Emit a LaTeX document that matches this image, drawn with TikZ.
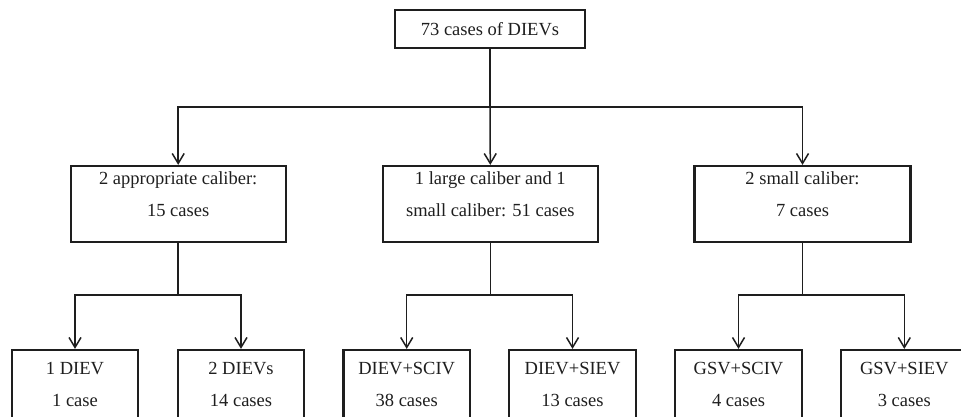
\documentclass[tikz,border=0pt]{standalone}
\usepackage{fontspec}
\setmainfont{Liberation Serif}
\usetikzlibrary{arrows.meta}
\definecolor{ink}{HTML}{1E1E1E}
\tikzset{
  box/.style={draw=ink, line width=2.2pt, rectangle, inner sep=0pt},
  txt/.style={inner sep=0pt, align=center, text=ink, font=\fontsize{18.5}{32}\selectfont},
  conn/.style={draw=ink, line width=1.5pt},
  arr/.style={conn, -{Straight Barb[length=10pt,width=12pt]}}
}
\begin{document}
\begin{tikzpicture}[x=1pt,y=-1pt]
\useasboundingbox (0,0) rectangle (961,416);
% top
\node[box, minimum width=190pt, minimum height=38pt] (top) at (490,29) {};
\node[txt] (topt) at (490,29) {73 cases of DIEVs};
% middle row
\node[box, minimum width=215pt, minimum height=76pt] (m1) at (178.2,204) {};
\node[txt] (m1t) at (178.2,194) {2 appropriate caliber:\\15 cases};
\node[box, minimum width=215pt, minimum height=76pt] (m2) at (490.3,204) {};
\node[txt] (m2t) at (490.3,194) {1 large caliber and 1\\small caliber: 51 cases};
\node[box, minimum width=216pt, minimum height=76pt] (m3) at (802.5,204) {};
\node[txt] (m3t) at (802.5,194) {2 small caliber:\\7 cases};
% bottom row
\node[box, minimum width=126.5pt, minimum height=72pt] (b1) at (75,386) {};
\node[txt] (b1t) at (75,384) {1 DIEV\\1 case};
\node[box, minimum width=126.5pt, minimum height=72pt] (b2) at (241,386) {};
\node[txt] (b2t) at (241,384) {2 DIEVs\\14 cases};
\node[box, minimum width=126.5pt, minimum height=72pt] (b3) at (406.7,386) {};
\node[txt] (b3t) at (406.7,384) {DIEV+SCIV\\38 cases};
\node[box, minimum width=126.5pt, minimum height=72pt] (b4) at (572.5,386) {};
\node[txt] (b4t) at (572.5,384) {DIEV+SIEV\\13 cases};
\node[box, minimum width=126.5pt, minimum height=72pt] (b5) at (738.5,386) {};
\node[txt] (b5t) at (738.5,384) {GSV+SCIV\\4 cases};
\node[box, minimum width=126.5pt, minimum height=72pt] (b6) at (904.3,386) {};
\node[txt] (b6t) at (904.3,384) {GSV+SIEV\\3 cases};
% junctions
\coordinate (j0) at (490,107);
\coordinate (j1) at (178.2,295);
\coordinate (j2) at (490.3,295);
\coordinate (j3) at (802.5,295);
% connectors
\draw[conn] (top.south) -- (j0);
\draw[arr] (j0) -| (m1.north);
\draw[arr] (j0) -- (m2.north);
\draw[arr] (j0) -| (m3.north);
\draw[conn] (m1.south) -- (j1);
\draw[arr] (j1) -| (b1.north);
\draw[arr] (j1) -| (b2.north);
\draw[conn] (m2.south) -- (j2);
\draw[arr] (j2) -| (b3.north);
\draw[arr] (j2) -| (b4.north);
\draw[conn] (m3.south) -- (j3);
\draw[arr] (j3) -| (b5.north);
\draw[arr] (j3) -| (b6.north);
\end{tikzpicture}
\end{document}
